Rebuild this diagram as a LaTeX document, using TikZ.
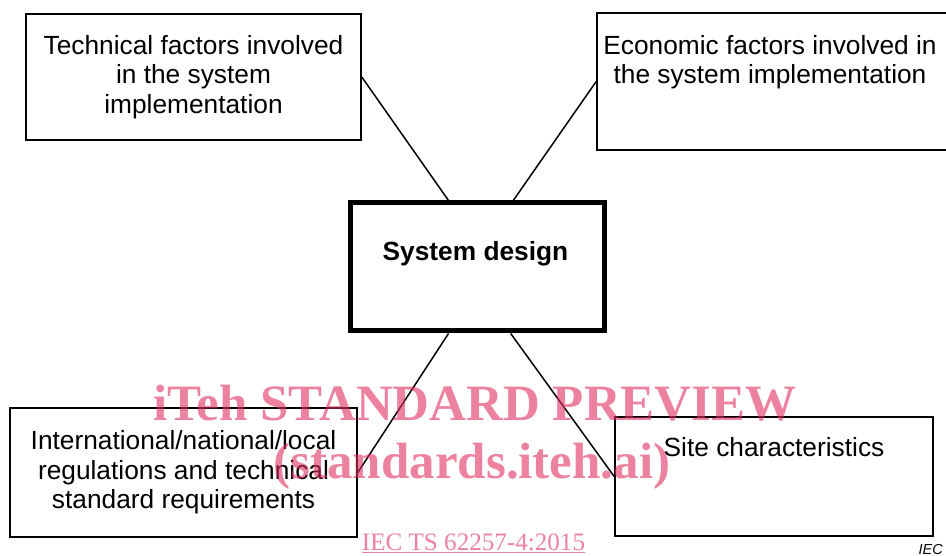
\documentclass[tikz,border=0pt]{standalone}
\usepackage{fontspec}
\setmainfont{Liberation Sans}
\newfontfamily\wmfont{Liberation Serif}
\usetikzlibrary{calc,positioning}
\definecolor{wmpink}{RGB}{223,47,97}

\tikzset{
  txt/.style={font=\fontsize{26.3}{29.5}\selectfont},
  box/.style={draw, line width=1.6pt, fill=white, inner sep=0pt, align=center, txt},
  mainbox/.style={box, line width=5pt},
  link/.style={line width=1.5pt},
  wm/.style={text=wmpink, text opacity=0.6, inner sep=0pt, anchor=base}
}

\begin{document}
\begin{tikzpicture}[x=1pt,y=-1pt]
  \useasboundingbox (0,0) rectangle (946,556);
  \clip (0,0) rectangle (946,556);

  % the four factors round the design box
  \node[box, minimum width=335, minimum height=126] (tech) at (193.5,77)
    {Technical factors involved\\in the system\\implementation};
  \node[box, minimum width=370, minimum height=137] (econ) at (782,81.5) {};
  \node[txt, inner sep=0pt, anchor=north, align=center] (econtxt)
    at ($(econ.north)+(-12,23)$) {Economic factors involved in\\the system implementation};
  \node[box, minimum width=347, minimum height=129] (reg) at (183.5,472.5)
    {International/national/local\\regulations and technical\\standard requirements};
  \node[box, minimum width=318, minimum height=119] (site) at (774,476.5) {};
  \node[txt, inner sep=0pt, anchor=north] (sitetxt) at ($(site.north)+(0,21)$)
    {Site characteristics};

  % centre
  \node[mainbox, minimum width=254, minimum height=128] (sys) at (477,267) {};
  \node[txt, inner sep=0pt, anchor=north] (systxt) at ($(sys.north)+(-1.5,41)$)
    {\bfseries System design};

  \draw[link] (tech.east) -- ($(sys.north west)!0.39!(sys.north east)$);
  \draw[link] (econ.west) -- ($(sys.north west)!0.64!(sys.north east)$);
  \draw[link] (reg.east) -- ($(sys.south west)!0.39!(sys.south east)$);
  \draw[link] (site.west) -- ($(sys.south west)!0.63!(sys.south east)$);

  % stamp over the figure
  \node[wm, font=\wmfont\bfseries\fontsize{51}{51}\selectfont] (wmtop) at (475,420)
    {iTeh STANDARD PREVIEW};
  \node[wm, font=\wmfont\bfseries\fontsize{51}{51}\selectfont] (wmmid) at (472,478)
    {(standards.iteh.ai)};
  \node[wm, font=\wmfont\fontsize{25.1}{25.1}\selectfont] (wmref) at (473.5,550)
    {\underline{IEC TS 62257-4:2015}};

  \node[anchor=base east, inner sep=0pt, font=\fontsize{14.5}{14.5}\selectfont\itshape]
    (iec) at (943,554) {IEC};
\end{tikzpicture}
\end{document}
